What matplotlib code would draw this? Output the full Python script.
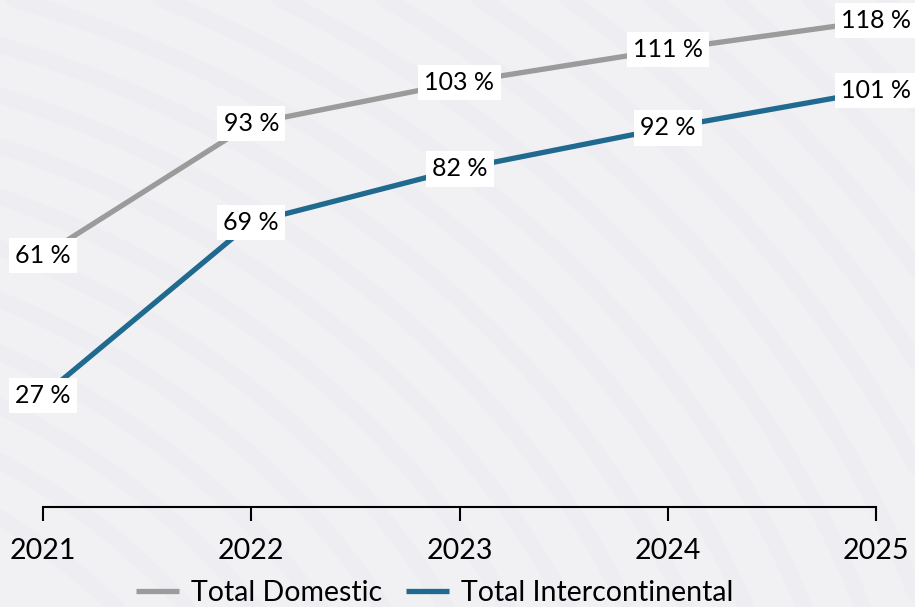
import matplotlib
matplotlib.use("Agg")
import matplotlib.pyplot as plt
import numpy as np

# Data
years = [2021, 2022, 2023, 2024, 2025]
domestic = [61, 93, 103, 111, 118]
intercontinental = [27, 69, 82, 92, 101]
series_names = ["Total Domestic", "Total Intercontinental"]

plt.rcParams['font.family'] = ['Lato', 'DejaVu Sans']

BG = "#F1F0F3"
GREY = "#9B9B9B"
BLUE = "#1F6A8E"

fig = plt.figure(figsize=(9.15, 6.07), dpi=100, facecolor=BG)

# barely visible sweeping arcs in the backdrop
bg = fig.add_axes([0, 0, 1, 1], zorder=0)
bg.set_xlim(0, 1)
bg.set_ylim(0, 1)
bg.axis("off")
t = np.linspace(0, np.pi / 2, 300)
for r in np.arange(0.7, 2.0, 0.06):
    bg.plot(-0.4 + r * np.cos(t), -0.6 + r * 1.3 * np.sin(t), color="#EBEAEE",
            lw=12, alpha=0.35, solid_capstyle="round")

ax = fig.add_axes([43 / 915, 100 / 607, 833 / 915, 507 / 607], zorder=1)
ax.set_facecolor("none")
ax.set_xlim(2021, 2025)
ax.set_ylim(0, 123)

ax.plot(years, domestic, color=GREY, lw=3.8, label=series_names[0], solid_capstyle="butt", clip_on=False)
ax.plot(years, intercontinental, color=BLUE, lw=3.8, label=series_names[1], solid_capstyle="butt", clip_on=False)

for xs, vals in ((years, domestic), (years, intercontinental)):
    for x, v in zip(xs, vals):
        ax.text(x, v, f"{v} %", ha="center", va="center", fontsize=18, color="black",
                bbox=dict(boxstyle="square,pad=0.25", fc="white", ec="none"),
                zorder=5, clip_on=False)

for s in ("top", "right", "left"):
    ax.spines[s].set_visible(False)
ax.spines["bottom"].set_linewidth(1.5)
ax.spines["bottom"].set_color("black")
ax.set_yticks([])
ax.set_xticks(years)
ax.set_xticklabels([str(y) for y in years], fontsize=20.5)
ax.tick_params(axis="x", direction="out", length=10, width=1.5, pad=12)

leg = fig.legend(loc="center", bbox_to_anchor=(435 / 915, 1 - 593 / 607), ncol=2,
                 frameon=False, fontsize=20.5, handlelength=1.5, handletextpad=0.42,
                 columnspacing=0.85)

fig.savefig("out.png", dpi=100, facecolor=BG)
